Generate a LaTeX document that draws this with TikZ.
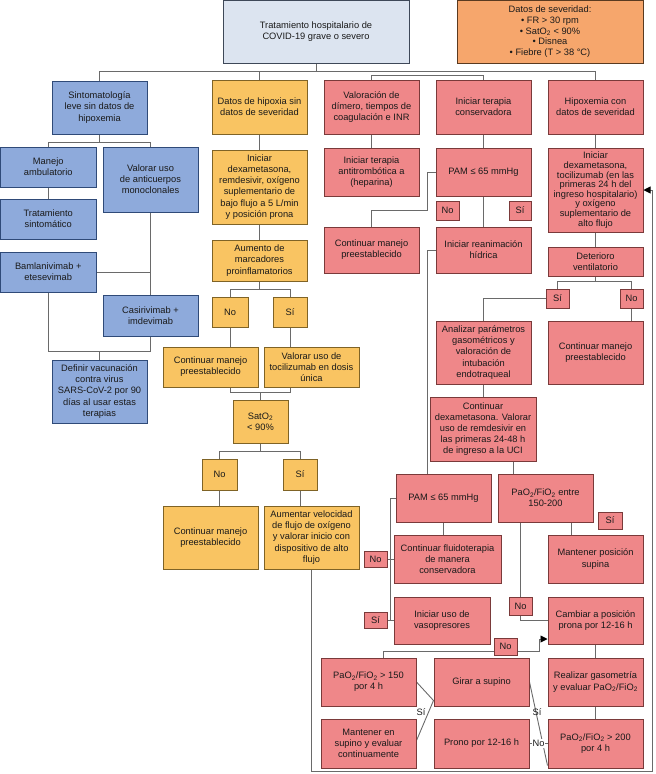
\documentclass[tikz,border=0pt]{standalone}
\usepackage{fontspec}
\setmainfont{Liberation Sans}
\usetikzlibrary{arrows.meta,backgrounds}
\definecolor{bluef}{HTML}{8EAADB}
\definecolor{blued}{HTML}{2F4A78}
\definecolor{yelf}{HTML}{F9C462}
\definecolor{yeld}{HTML}{7F6326}
\definecolor{redf}{HTML}{EF8789}
\definecolor{redd}{HTML}{7A3A3A}
\definecolor{orf}{HTML}{F6A66C}
\definecolor{ord}{HTML}{5A3A20}
\definecolor{topf}{HTML}{DCE4F0}
\definecolor{topd}{HTML}{3E4858}
\definecolor{linec}{HTML}{6A6A6A}
\definecolor{txt}{HTML}{1A1A1A}
\tikzset{
  box/.style={draw, line width=1pt, align=center, inner sep=1pt, text=txt,
    font=\fontsize{9.3}{11.1}\selectfont},
  bluebox/.style={box, fill=bluef, draw=blued},
  yelbox/.style={box, fill=yelf, draw=yeld},
  redbox/.style={box, fill=redf, draw=redd},
  orangebox/.style={box, fill=orf, draw=ord},
  topbox/.style={box, fill=topf, draw=topd},
  conn/.style={draw=linec, line width=0.9pt},
  lbl/.style={inner sep=1pt, text=txt, font=\fontsize{9.3}{11.1}\selectfont},
  tip/.style={-{Triangle[length=7pt,width=7pt,black]}}
}
\newcommand\bx[7]{\node[#1, minimum width={(#5-#3)*1pt}, minimum height={(#6-#4)*1pt}] (#2) at ({(#3+#5)/2},{(#4+#6)/2}) {#7};}
\begin{document}
\begin{tikzpicture}[x=1pt,y=-1pt]
\useasboundingbox (0,0) rectangle (656,774);
% top
\bx{topbox}{top}{223}{0.5}{409}{63}{Tratamiento hospitalario de\\COVID-19 grave o severo}
\bx{orangebox,font=\fontsize{9.3}{10.8}\selectfont}{sev}{457}{0.5}{643}{63}{Datos de severidad:\\• FR > 30 rpm\\• SatO\textsubscript{2} < 90\%\\• Disnea\\• Fiebre (T > 38 °C)}
% blue
\bx{bluebox}{sint}{52}{81}{147}{134}{Sintomatología\\leve sin datos de\\hipoxemia}
\bx{bluebox}{amb}{0.5}{147}{96}{187}{Manejo\\ambulatorio}
\bx{bluebox}{anti}{103}{147}{198}{212}{Valorar uso\\de anticuerpos\\monoclonales}
\bx{bluebox}{trat}{0.5}{199}{96}{239}{Tratamiento\\sintomático}
\bx{bluebox}{baml}{0.5}{252}{96}{292}{Bamlanivimab +\\etesevimab}
\bx{bluebox}{casi}{103}{295}{198}{336}{Casirivimab +\\imdevimab}
\bx{bluebox}{vacu}{52}{360}{147}{423}{Definir vacunación\\contra virus\\SARS-CoV-2 por 90\\días al usar estas\\terapias}
% yellow
\bx{yelbox}{dhip}{212}{80}{307}{134}{Datos de hipoxia sin\\datos de severidad}
\bx{yelbox}{inidx}{212}{150}{307}{224}{Iniciar\\dexametasona,\\remdesivir, oxígeno\\suplementario de\\bajo flujo a 5 L/min\\y posición prona}
\bx{yelbox}{aum}{212}{240}{307}{281}{Aumento de\\marcadores\\proinflamatorios}
\bx{yelbox}{noA}{212}{297}{248}{327}{No}
\bx{yelbox}{siA}{273}{297}{307}{327}{Sí}
\bx{yelbox}{contA}{163}{347}{258}{387}{Continuar manejo\\preestablecido}
\bx{yelbox}{toci}{264}{347}{359}{387}{Valorar uso de\\tocilizumab en dosis\\única}
\bx{yelbox}{sat}{233}{400}{288}{443}{SatO\textsubscript{2}\\< 90\%}
\bx{yelbox}{noB}{202}{459}{237}{490}{No}
\bx{yelbox}{siB}{283}{459}{317}{490}{Sí}
\bx{yelbox}{contB}{163}{506}{258}{569}{Continuar manejo\\preestablecido}
\bx{yelbox}{velo}{264}{506}{359}{569}{Aumentar velocidad\\de flujo de oxígeno\\y valorar inicio con\\dispositivo de alto\\flujo}
% red
\bx{redbox}{valo}{324}{80}{419}{134}{Valoración de\\dímero, tiempos de\\coagulación e INR}
\bx{redbox}{antit}{324}{148}{419}{196}{Iniciar terapia\\antitrombótica a\\(heparina)}
\bx{redbox}{contC}{324}{227}{419}{273}{Continuar manejo\\preestablecido}
\bx{redbox}{cons}{436}{80}{531}{134}{Iniciar terapia\\conservadora}
\bx{redbox}{pamA}{436}{148}{531}{196}{PAM ≤ 65 mmHg}
\bx{redbox}{noC}{436}{201}{459}{220}{No}
\bx{redbox}{siC}{509}{201}{531}{220}{Sí}
\bx{redbox}{rean}{436}{227}{531}{273}{Iniciar reanimación\\hídrica}
\bx{redbox}{hipo}{548}{80}{643}{134}{Hipoxemia con\\datos de severidad}
\bx{redbox,font=\fontsize{9.3}{9.6}\selectfont}{inidR}{548}{148}{643}{232}{Iniciar\\dexametasona,\\tocilizumab (en las\\primeras 24 h del\\ingreso hospitalario)\\y oxígeno\\suplementario de\\alto flujo}
\bx{redbox}{dete}{548}{247}{643}{276}{Deterioro\\ventilatorio}
\bx{redbox}{siD}{546}{289}{569}{308}{Sí}
\bx{redbox}{noD}{620}{289}{643}{308}{No}
\bx{redbox}{anal}{436}{321}{531}{384}{Analizar parámetros\\gasométricos y\\valoración de\\intubación\\endotraqueal}
\bx{redbox}{contD}{548}{321}{643}{384}{Continuar manejo\\preestablecido}
\bx{redbox}{cdex}{430}{397}{536}{461}{Continuar\\dexametasona. Valorar\\uso de remdesivir en\\las primeras 24-48 h\\de ingreso a la UCI}
\bx{redbox}{pamB}{396}{474}{491}{522}{PAM ≤ 65 mmHg}
\bx{redbox}{paoA}{498}{474}{593}{522}{PaO\textsubscript{2}/FiO\textsubscript{2} entre\\150-200}
\bx{redbox}{siE}{598}{512}{622}{529}{Sí}
\bx{redbox}{flui}{394}{535}{501}{583}{Continuar fluidoterapia\\de manera\\conservadora}
\bx{redbox}{mant}{548}{535}{643}{583}{Mantener posición\\supina}
\bx{redbox}{noF}{364}{551}{387}{567}{No}
\bx{redbox}{siF}{364}{612}{387}{628}{Sí}
\bx{redbox}{vaso}{394}{597}{490}{644}{Iniciar uso de\\vasopresores}
\bx{redbox}{noG}{509}{597}{532}{615}{No}
\bx{redbox}{camb}{548}{597}{643}{644}{Cambiar a posición\\prona por 12-16 h}
\bx{redbox}{noH}{494}{638}{517}{655}{No}
\bx{redbox}{paoB}{321}{658}{416}{706}{PaO\textsubscript{2}/FiO\textsubscript{2} > 150\\por 4 h}
\bx{redbox}{gira}{434}{658}{529}{706}{Girar a supino}
\bx{redbox}{real}{548}{658}{643}{706}{Realizar gasometría\\y evaluar PaO\textsubscript{2}/FiO\textsubscript{2}}
\bx{redbox}{msup}{321}{719}{416}{768}{Mantener en\\supino y evaluar\\continuamente}
\bx{redbox}{pron}{434}{719}{529}{768}{Prono por 12-16 h}
\bx{redbox}{paoC}{548}{719}{643}{768}{PaO\textsubscript{2}/FiO\textsubscript{2} > 200\\por 4 h}
% free labels
\node[lbl] (siX) at (421,712) {Sí};
\node[lbl] (siY) at (537,712) {Sí};
\node[lbl,fill=white] (noZ) at (538.5,743.5) {No};
\begin{pgfonlayer}{background}
% main bus
\coordinate (b1L) at (99.5,71);
\coordinate (b1R) at (595.5,71);
\draw[conn] (sint.north) -- (b1L) -- (b1R) -- (hipo.north);
\draw[conn] (top.south) -- (top.south |- b1L);
\draw[conn] (dhip.north) -- (dhip.north |- b1L);
\coordinate (b2) at (0,75.5);
\draw[conn] (valo.north) -- (valo.north |- b2) -- (cons.north |- b2) -- (cons.north);
% blue
\coordinate (bb1) at (0,142);
\draw[conn] (sint.south) -- (sint.south |- bb1);
\draw[conn] (amb.north) -- (amb.north |- bb1) -- (anti.north |- bb1) -- (anti.north);
\draw[conn] (amb.south) -- (trat.north);
\draw[conn] (anti.south) -- (casi.north);
\draw[conn] (baml.east) -- (anti.south |- baml.east);
\coordinate (bb2) at (0,351);
\draw[conn] (baml.south) -- (baml.south |- bb2) -- (casi.south |- bb2) -- (casi.south);
\draw[conn] (vacu.north) -- (vacu.north |- bb2);
% yellow
\draw[conn] (dhip.south) -- (inidx.north);
\draw[conn] (inidx.south) -- (aum.north);
\coordinate (yb1) at (0,289);
\draw[conn] (aum.south) -- (aum.south |- yb1);
\draw[conn] (noA.north) -- (noA.north |- yb1) -- (siA.north |- yb1) -- (siA.north);
\draw[conn] (noA.south) -- (noA.south |- contA.north);
\draw[conn] (siA.south) -- (siA.south |- toci.north);
\coordinate (yb2) at (0,392);
\draw[conn] (noA.south |- contA.south) -- (noA.south |- yb2) -- (siA.south |- yb2) -- (siA.south |- toci.south);
\draw[conn] (sat.north) -- (sat.north |- yb2);
\coordinate (yb3) at (0,451);
\draw[conn] (sat.south) -- (sat.south |- yb3);
\draw[conn] (noB.north) -- (noB.north |- yb3) -- (siB.north |- yb3) -- (siB.north);
\draw[conn] (noB.south) -- (noB.south |- contB.north);
\draw[conn] (siB.south) -- (siB.south |- velo.north);
\coordinate (lpB) at (652,771);
\draw[conn,tip] (velo.south) -- (velo.south |- lpB) -- (lpB) -- (lpB |- inidR.east) -- (inidR.east);
% red middle
\draw[conn] (valo.south) -- (antit.north);
\draw[conn] (cons.south) -- (pamA.north);
\coordinate (pa1) at (427,210);
\draw[conn] (pamA.west) -| (pa1) -| (contC.north);
\draw[conn] (pamA.south) -- (rean.north);
\coordinate (ra1) at (427,474);
\draw[conn] (rean.west) -| (ra1);
% red right
\draw[conn] (hipo.south) -- (inidR.north);
\draw[conn] (inidR.south) -- (dete.north);
\coordinate (rb1) at (0,281);
\draw[conn] (dete.south) -- (dete.south |- rb1);
\draw[conn] (siD.north) -- (siD.north |- rb1) -- (noD.north |- rb1) -- (noD.north);
\draw[conn] (noD.south) -- (noD.south |- contD.north);
\draw[conn] (siD.west) -| (anal.north);
\draw[conn] (anal.south) -- (anal.south |- cdex.north);
\coordinate (cd1) at (513,0);
\draw[conn] (cd1 |- cdex.south) -- (cd1 |- paoA.north);
\draw[conn] (pamB.south) -- (pamB.south |- flui.north);
\coordinate (pb1) at (390,0);
\draw[conn] (pamB.west) -| (pb1 |- vaso.west) -- (vaso.west);
\draw[conn] (noF.east) -- (flui.west);
\draw[conn] (siF.east) -- (siF.east -| vaso.west);
\coordinate (pa2) at (571,0);
\draw[conn] (pa2 |- paoA.south) -- (pa2 |- mant.north);
\coordinate (pa3) at (520.5,0);
\draw[conn] (pa3 |- paoA.south) |- (camb.west);
\coordinate (lp1) at (383,651);
\coordinate (lp2) at (539,639);
\draw[conn,tip] (lp1 |- paoB.north) -- (lp1) -| (lp2) -- (lp2 -| camb.west);
\draw[conn] (camb.south) -- (real.north);
\draw[conn] (real.south) -- (paoC.north);
\draw[conn] (paoB.east) -- ([yshift=6pt]gira.south west) -- ([yshift=3pt]msup.east);
\draw[conn] (gira.east) -- ([yshift=3pt]paoC.south west);
\draw[conn] (pron.east) -- (paoC.west);
\end{pgfonlayer}
\end{tikzpicture}
\end{document}
